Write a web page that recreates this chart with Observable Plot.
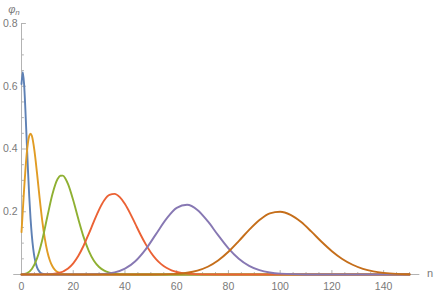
<!DOCTYPE html>
<html>
<head>
<meta charset="utf-8">
<script src="https://cdn.jsdelivr.net/npm/d3@7"></script>
<script src="https://cdn.jsdelivr.net/npm/@observablehq/plot@0.6"></script>
<style>
  html, body { margin: 0; padding: 0; background: #fff; }
  #chart svg { display: block; }
</style>
</head>
<body>
<div id="chart"></div>
<script>
// series: mean photon numbers 1, 4, 16, 36, 64, 100
const nBlue   = [0, 0.5, 1, 1.5, 2, 2.5, 3, 3.5, 4, 4.5, 5, 6, 7, 8, 10, 12, 150];
const phiBlue = [0.607, 0.645, 0.607, 0.526, 0.429, 0.333, 0.248, 0.178, 0.124, 0.084, 0.0554, 0.0226, 0.0086, 0.003, 0.0003, 0, 0];

const nOrange   = [0, 0.5, 1, 1.5, 2, 2.5, 3, 3.5, 4, 5, 6, 7, 8, 9, 10, 11, 12, 13, 14, 16, 18, 20, 24, 150];
const phiOrange = [0.135, 0.203, 0.271, 0.332, 0.383, 0.420, 0.442, 0.449, 0.442, 0.395, 0.323, 0.244, 0.1725, 0.115, 0.0727, 0.0439, 0.0253, 0.014, 0.0075, 0.0019, 0.00044, 0.0001, 0, 0];

const nGreen   = [0, 2, 4, 6, 8, 10, 12, 14, 15, 16, 17, 18, 20, 22, 24, 26, 28, 30, 32, 34, 36, 40, 46, 150];
const phiGreen = [0.0003, 0.0038, 0.0175, 0.0512, 0.1094, 0.1847, 0.2572, 0.3049, 0.3148, 0.315, 0.3054, 0.288, 0.2365, 0.1759, 0.1198, 0.0752, 0.0438, 0.0238, 0.0121, 0.0058, 0.0026, 0.00045, 0, 0];

const nRed   = [0, 6, 10, 14, 18, 20, 22, 24, 26, 28, 30, 32, 34, 36, 38, 40, 42, 44, 46, 48, 50, 52, 54, 56, 58, 60, 64, 70, 78, 150];
const phiRed = [0, 0.00002, 0.0005, 0.004, 0.0193, 0.0357, 0.0598, 0.0916, 0.1294, 0.1693, 0.2068, 0.2365, 0.2536, 0.2569, 0.2466, 0.2247, 0.195, 0.1612, 0.1276, 0.0968, 0.0703, 0.0492, 0.0331, 0.0215, 0.0134, 0.0081, 0.0027, 0.0004, 0, 0];

const nPurple   = [0, 20, 30, 36, 40, 44, 48, 52, 56, 60, 64, 68, 72, 76, 80, 84, 88, 92, 96, 100, 110, 120, 150];
const phiPurple = [0, 0.00002, 0.001, 0.0068, 0.0186, 0.0422, 0.08, 0.1287, 0.1773, 0.2125, 0.2221, 0.2058, 0.1698, 0.1254, 0.0833, 0.0503, 0.0276, 0.0137, 0.0063, 0.0027, 0.0002, 0, 0];

const nBrown   = [0, 40, 50, 60, 64, 68, 72, 76, 80, 84, 88, 92, 96, 100, 104, 108, 112, 116, 120, 124, 128, 132, 136, 140, 145, 150];
const phiBrown = [0, 0, 0.0001, 0.0021, 0.0054, 0.0123, 0.0247, 0.0446, 0.0724, 0.1065, 0.1423, 0.1738, 0.195, 0.1998, 0.19, 0.1678, 0.1374, 0.1043, 0.0743, 0.0495, 0.0311, 0.0182, 0.01, 0.0052, 0.002, 0.0008];

const seriesColors = ["#5E81B5", "#E19C24", "#8FB032", "#EB6235", "#8778B3", "#C56E1A"];

const xTicks = [0, 20, 40, 60, 80, 100, 120, 140];
const xMinorTicks = [5, 10, 15, 25, 30, 35, 45, 50, 55, 65, 70, 75, 85, 90, 95, 105, 110, 115, 125, 130, 135, 145, 150];
const yTicks = [0.2, 0.4, 0.6, 0.8];
const yMinorTicks = [0.05, 0.1, 0.15, 0.25, 0.3, 0.35, 0.45, 0.5, 0.55, 0.65, 0.7, 0.75];

const allN = [nBlue, nOrange, nGreen, nRed, nPurple, nBrown];
const allPhi = [phiBlue, phiOrange, phiGreen, phiRed, phiPurple, phiBrown];
const rows = [];
allN.forEach((ns, s) => ns.forEach((n, i) => rows.push({s, n, phi: allPhi[s][i]})));

const tickShapeUp = { draw(ctx, l) { ctx.moveTo(0, 0); ctx.lineTo(0, -l); } };
const tickShapeRight = { draw(ctx, l) { ctx.moveTo(0, 0); ctx.lineTo(l, 0); } };
const axisColor = "#b3b3b3";
const labelColor = "#7a7a7a";
const font = "Liberation Sans, Arial, sans-serif";

const chart = Plot.plot({
  width: 436,
  height: 293,
  marginLeft: 21,
  marginRight: 27,
  marginTop: 23,
  marginBottom: 19,
  x: { domain: [0, 150], axis: null },
  y: { domain: [0, 0.8], axis: null },
  style: { fontFamily: font, background: "#fff" },
  marks: [
    // axes lines
    Plot.ruleY([0], { x1: -3, x2: 154, stroke: axisColor, strokeWidth: 1 }),
    Plot.ruleX([0], { y1: 0, y2: 0.8, stroke: axisColor, strokeWidth: 1 }),
    // ticks
    Plot.vector(xTicks, { x: d => d, y: 0, length: 4, anchor: "start", shape: tickShapeUp, stroke: axisColor, strokeWidth: 1 }),
    Plot.vector(xMinorTicks, { x: d => d, y: 0, length: 2, anchor: "start", shape: tickShapeUp, stroke: axisColor, strokeWidth: 1 }),
    Plot.vector(yTicks, { x: 0, y: d => d, length: 4, anchor: "start", shape: tickShapeRight, stroke: axisColor, strokeWidth: 1 }),
    Plot.vector(yMinorTicks, { x: 0, y: d => d, length: 2, anchor: "start", shape: tickShapeRight, stroke: axisColor, strokeWidth: 1 }),
    // tick labels
    Plot.text(xTicks, { x: d => d, y: 0, dy: 12, text: d => String(d), fill: labelColor, fontSize: 10.5, lineAnchor: "middle" }),
    Plot.text(yTicks, { x: 0, y: d => d, dx: -4, text: d => d.toFixed(1), fill: labelColor, fontSize: 10.5, textAnchor: "end" }),
    // curves
    ...seriesColors.map((c, s) => Plot.line(rows.filter(r => r.s === s), {
      x: "n", y: "phi", stroke: c, strokeWidth: 1.9, curve: "monotone-x"
    }))
  ]
});

const svg = d3.select(chart);
svg.append("text")
  .attr("x", 430).attr("y", 277)
  .attr("text-anchor", "middle")
  .attr("font-size", 11).attr("font-family", font)
  .attr("fill", labelColor)
  .text("n");
const yl = svg.append("text")
  .attr("x", 14).attr("y", 13)
  .attr("font-size", 11).attr("font-family", font)
  .attr("fill", labelColor);
yl.append("tspan").attr("font-style", "italic").text("φ");
yl.append("tspan").attr("font-style", "italic").attr("font-size", 8).attr("dy", 2).text("n");

document.getElementById("chart").appendChild(chart);
</script>
</body>
</html>
